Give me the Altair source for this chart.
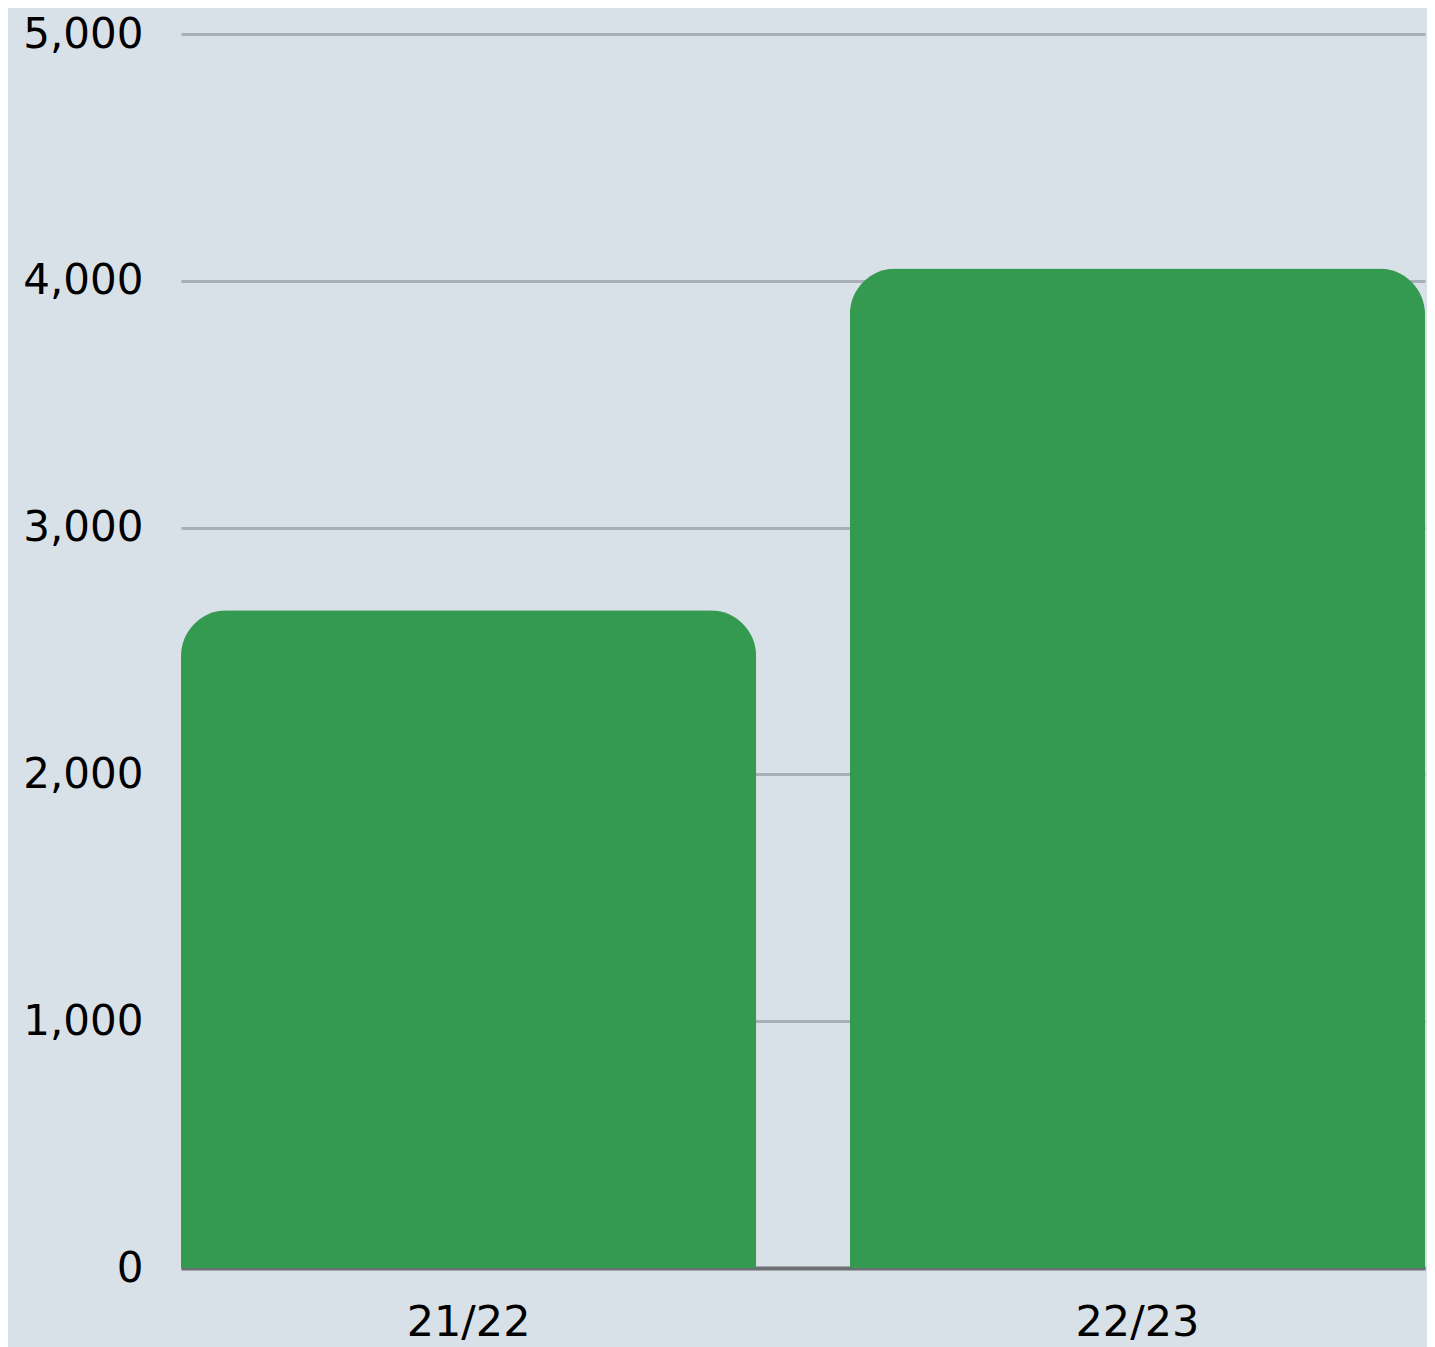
import altair as alt
import pandas as pd

seasons = ["21/22", "22/23"]
values = [2665, 4050]
y_ticks = [0, 1000, 2000, 3000, 4000, 5000]

df = pd.DataFrame({"season": seasons, "value": values})

font = "DejaVu Sans"

chart = (
    alt.Chart(df)
    .mark_bar(color="#339a4f", cornerRadiusTopLeft=46, cornerRadiusTopRight=46)
    .encode(
        x=alt.X(
            "season:N",
            sort=seasons,
            title=None,
            scale=alt.Scale(paddingInner=0.14, paddingOuter=0),
            axis=alt.Axis(
                labelAngle=0,
                labelFont=font,
                labelFontSize=43,
                labelColor="#000000",
                labelPadding=33,
                ticks=False,
                domain=True,
                domainColor="#6b6f73",
                domainWidth=4,
                grid=False,
            ),
        ),
        y=alt.Y(
            "value:Q",
            title=None,
            scale=alt.Scale(domain=[0, 5000], nice=False),
            axis=alt.Axis(
                values=y_ticks,
                format=",d",
                labelFont=font,
                labelFontSize=42,
                labelColor="#000000",
                labelPadding=38,
                ticks=False,
                domain=False,
                grid=True,
                gridColor="#a9afb7",
                gridWidth=3,
            ),
        ),
    )
    .properties(
        width=1244,
        height=1234,
        background="#d9e1e8",
        autosize=alt.AutoSizeParams(type="none"),
        padding={"left": 173, "top": 26, "right": 2, "bottom": 79},
    )
    .configure_view(stroke=None)
)

chart.save("out.html", embed_options={"renderer": "svg", "actions": False})
